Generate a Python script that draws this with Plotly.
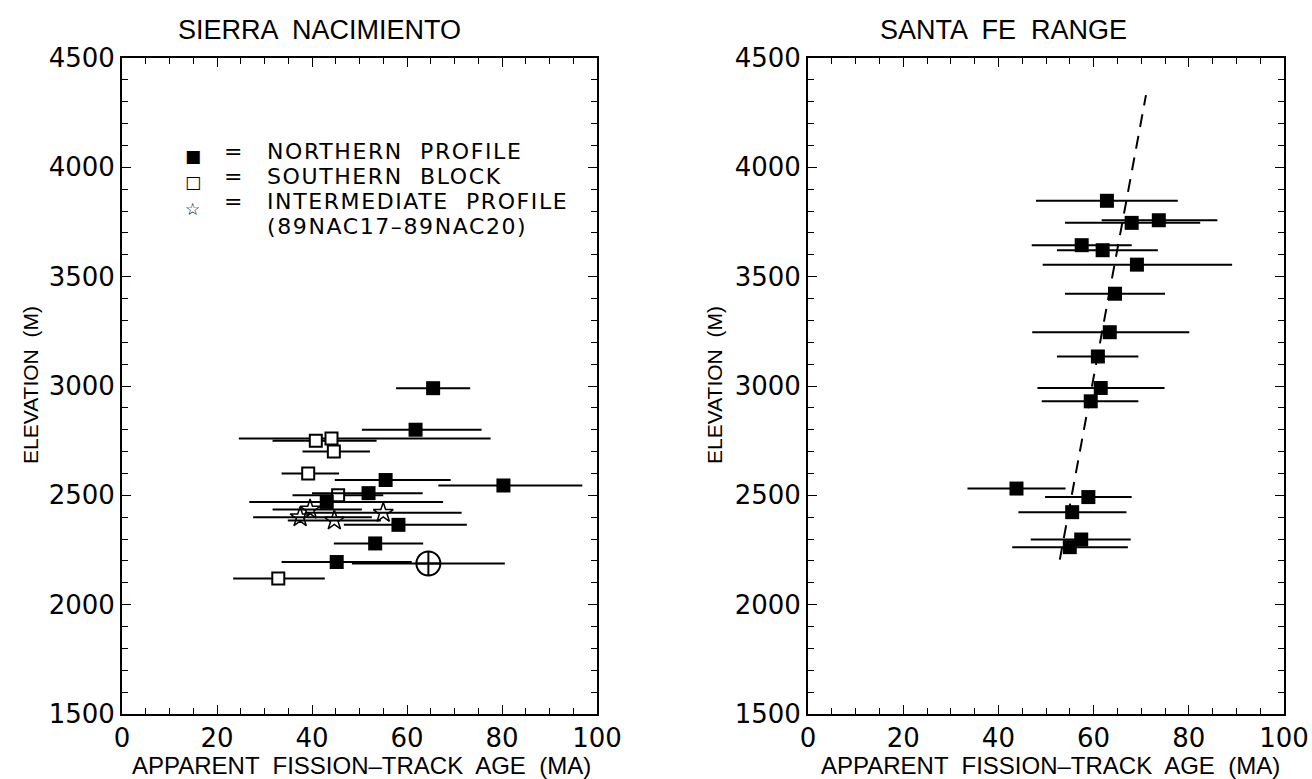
import plotly.graph_objects as go

# ---------------- data ----------------
# Sierra Nacimiento - northern profile (filled squares)
north_age = [65.5, 61.8, 55.5, 80.3, 51.9, 43.1, 58.2, 53.3, 45.2]
north_elev = [2990, 2800, 2570, 2545, 2510, 2470, 2365, 2280, 2195]
north_lo = [57.7, 50.5, 44.8, 66.6, 40.0, 26.8, 46.7, 44.6, 33.6]
north_hi = [73.3, 75.7, 69.2, 96.9, 63.3, 67.6, 72.6, 63.4, 61.0]

# southern block (open squares)
south_age = [40.8, 44.1, 44.6, 39.2, 45.5, 32.9]
south_elev = [2750, 2760, 2700, 2600, 2500, 2120]
south_lo = [31.7, 24.6, 38.0, 33.6, 35.9, 23.4]
south_hi = [53.6, 77.6, 52.2, 45.7, 55.0, 42.7]

# intermediate profile (stars)
inter_age = [39.6, 37.5, 44.7, 55.0]
inter_elev = [2435, 2400, 2385, 2420]
inter_lo = [31.7, 27.6, 34.9, 38.5]
inter_hi = [50.5, 52.6, 54.5, 71.5]

# circled cross sample
cross_age = [64.5]
cross_elev = [2188]
cross_lo = [48.4]
cross_hi = [80.6]

# Santa Fe Range
sf_age = [62.8, 68.0, 73.7, 57.5, 61.9, 69.1, 64.5, 63.4, 60.9, 61.5, 59.4, 43.8, 58.9, 55.5, 57.4, 55.0]
sf_elev = [3847, 3746, 3758, 3644, 3621, 3555, 3422, 3246, 3135, 2991, 2930, 2531, 2492, 2423, 2298, 2263]
sf_lo = [47.9, 54.0, 61.7, 47.0, 52.3, 49.3, 54.0, 47.1, 52.3, 48.2, 49.1, 33.5, 49.8, 44.2, 46.8, 42.9]
sf_hi = [77.7, 82.4, 86.0, 68.0, 73.5, 89.1, 75.0, 80.1, 69.4, 74.9, 69.4, 54.1, 68.0, 66.9, 67.8, 67.2]

fit_age = [52.9, 71.0]
fit_elev = [2206, 4330]

x_ticks = [0, 20, 40, 60, 80, 100]
y_ticks = [1500, 2000, 2500, 3000, 3500, 4000, 4500]

FONT = "Liberation Sans"
NUMFONT = "DejaVu Sans"


def errx(age, lo, hi):
    return dict(type="data", symmetric=False,
                array=[h - a for a, h in zip(age, hi)],
                arrayminus=[a - l for a, l in zip(age, lo)],
                width=0, thickness=2, color="black")


fig = go.Figure()

# left panel
fig.add_trace(go.Scatter(x=south_age, y=south_elev, mode="markers", xaxis="x", yaxis="y",
                         error_x=errx(south_age, south_lo, south_hi),
                         marker=dict(symbol="square", size=12, color="white",
                                     line=dict(color="black", width=2))))
fig.add_trace(go.Scatter(x=inter_age, y=inter_elev, mode="markers", xaxis="x", yaxis="y",
                         error_x=errx(inter_age, inter_lo, inter_hi),
                         marker=dict(symbol="star-open", size=15, color="black",
                                     line=dict(color="black", width=1.5))))
fig.add_trace(go.Scatter(x=north_age, y=north_elev, mode="markers", xaxis="x", yaxis="y",
                         error_x=errx(north_age, north_lo, north_hi),
                         marker=dict(symbol="square", size=14, color="black")))
fig.add_trace(go.Scatter(x=cross_age, y=cross_elev, mode="markers", xaxis="x", yaxis="y",
                         error_x=errx(cross_age, cross_lo, cross_hi),
                         marker=dict(symbol="circle-cross-open", size=24, color="black",
                                     line=dict(color="black", width=2))))

# right panel
fig.add_trace(go.Scatter(x=fit_age, y=fit_elev, mode="lines", xaxis="x2", yaxis="y2",
                         line=dict(color="black", width=2, dash="13px,9px")))
fig.add_trace(go.Scatter(x=sf_age, y=sf_elev, mode="markers", xaxis="x2", yaxis="y2",
                         error_x=errx(sf_age, sf_lo, sf_hi),
                         marker=dict(symbol="square", size=14, color="black")))

axis_common = dict(showline=True, linecolor="black", linewidth=2, mirror="ticks",
                   ticks="inside", ticklen=9, tickwidth=1.3, tickcolor="black",
                   showgrid=False, zeroline=False, automargin=False,
                   tickfont=dict(family=NUMFONT, size=26, color="black"))

xcommon = dict(axis_common, range=[0, 100], tickvals=x_ticks,
               minor=dict(dtick=5, ticks="inside", ticklen=6, tickcolor="black", tickwidth=1.3))
ycommon = dict(axis_common, range=[1500, 4500], tickvals=y_ticks,
               minor=dict(dtick=100, ticks="inside", ticklen=6, tickcolor="black", tickwidth=1.3))

fig.update_layout(
    width=1312, height=779,
    margin=dict(l=0, r=0, t=0, b=0, autoexpand=False),
    paper_bgcolor="white", plot_bgcolor="white",
    showlegend=False,
    xaxis=dict(xcommon, domain=[122 / 1312, 597 / 1312], anchor="y"),
    yaxis=dict(ycommon, domain=[1 - 714 / 779, 1 - 58 / 779], anchor="x"),
    xaxis2=dict(xcommon, domain=[808 / 1312, 1284 / 1312], anchor="y2"),
    yaxis2=dict(ycommon, domain=[1 - 714 / 779, 1 - 58 / 779], anchor="x2"),
)

ann = []
title_font = dict(family=FONT, size=27, color="black")
ann.append(dict(text="SIERRA  NACIMIENTO", x=319 / 1312, y=1 - 30 / 779, xref="paper", yref="paper",
                showarrow=False, font=title_font, xanchor="center", yanchor="middle"))
ann.append(dict(text="SANTA  FE  RANGE", x=1003 / 1312, y=1 - 30 / 779, xref="paper", yref="paper",
                showarrow=False, font=title_font, xanchor="center", yanchor="middle"))
lab_font = dict(family=FONT, size=24, color="black")
for cx in (361, 1050):
    ann.append(dict(text="APPARENT  FISSION\u2013TRACK  AGE  (MA)", x=cx / 1312, y=1 - 765 / 779,
                    xref="paper", yref="paper", showarrow=False, font=lab_font,
                    xanchor="center", yanchor="middle"))
for cx in (30, 714):
    ann.append(dict(text="ELEVATION  (M)", x=cx / 1312, y=1 - 385 / 779, textangle=-90,
                    xref="paper", yref="paper", showarrow=False, font=dict(family=FONT, size=21, color="black"),
                    xanchor="center", yanchor="middle"))


def spaced(t):
    return '<span style="letter-spacing:1.6px">' + t + '</span>'


# legend inside left panel (data coordinates of left axes)
leg_font = dict(family="DejaVu Sans", size=22, color="black")
leg_rows = [("\u25A0", 4050, "NORTHERN  PROFILE", 4073),
            ("\u25A1", 3931, "SOUTHERN  BLOCK", 3959),
            ("\u2606", 3811, "INTERMEDIATE  PROFILE", 3844)]
for sym, sy, txt, ty in leg_rows:
    ann.append(dict(text=sym, x=14.9, y=sy, xref="x", yref="y", showarrow=False,
                    font=dict(family="DejaVu Sans", size=17, color="black"), xanchor="center", yanchor="middle"))
    ann.append(dict(text="=", x=23.4, y=ty, xref="x", yref="y", showarrow=False,
                    font=leg_font, xanchor="center", yanchor="middle"))
    ann.append(dict(text=spaced(txt), x=30.0, y=ty, xref="x", yref="y", showarrow=False,
                    font=leg_font, xanchor="left", yanchor="middle"))
ann.append(dict(text=spaced("(89NAC17\u201389NAC20)"), x=30.0, y=3729, xref="x", yref="y", showarrow=False,
                font=leg_font, xanchor="left", yanchor="middle"))

fig.update_layout(annotations=ann)

fig.write_html("out.html")
